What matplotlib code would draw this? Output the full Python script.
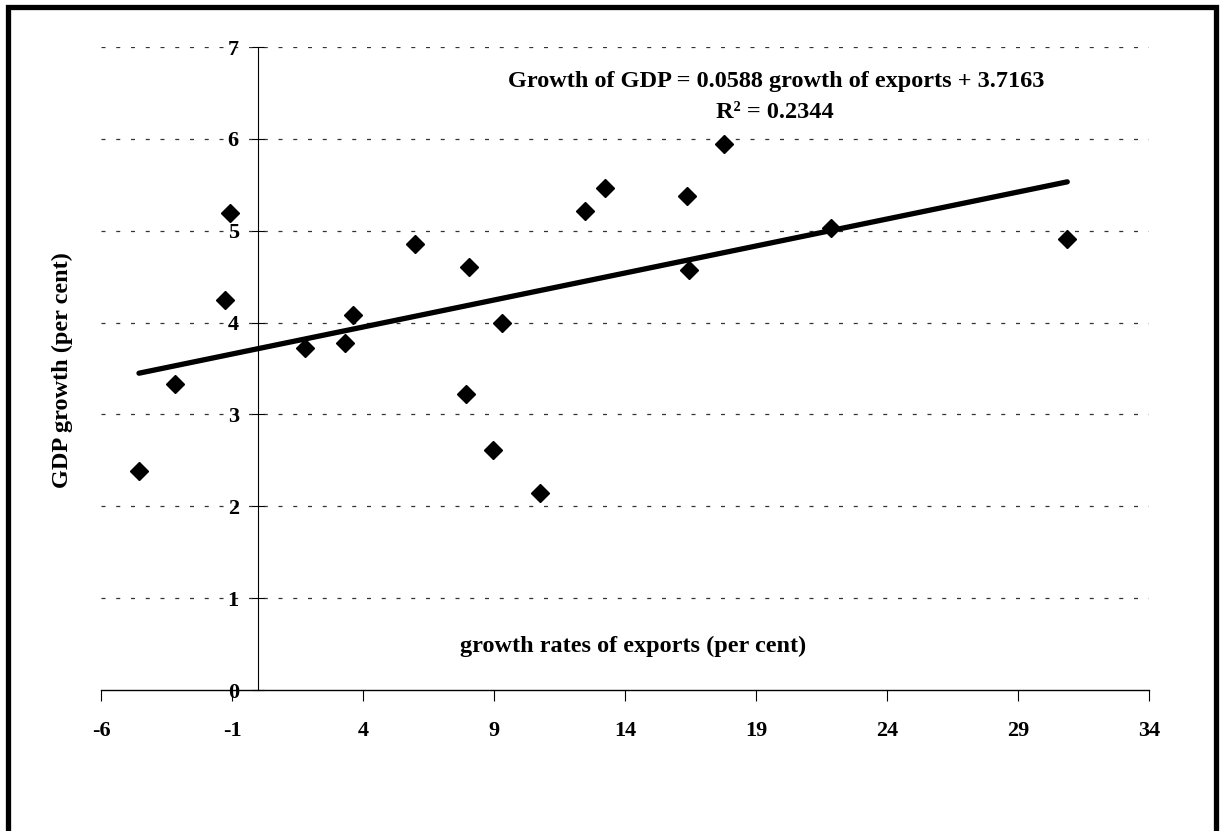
import numpy as np
import matplotlib
matplotlib.use("Agg")
import matplotlib.pyplot as plt
from matplotlib.lines import Line2D

plt.rcParams["font.family"] = ["Liberation Serif", "DejaVu Serif"]
plt.rcParams["font.weight"] = "bold"

# growth of exports (x) vs growth of GDP (y), per cent
export_growth = [-4.55, -3.18, -1.27, -1.08, 1.79, 3.31, 3.62, 5.98, 7.93, 8.06,
                 8.95, 9.29, 10.76, 12.47, 13.25, 16.38, 16.43, 17.78, 21.86, 30.88]
gdp_growth = [2.38, 3.33, 4.25, 5.19, 3.72, 3.78, 4.08, 4.86, 3.22, 4.60,
              2.61, 4.00, 2.15, 5.21, 5.46, 5.38, 4.57, 5.94, 5.03, 4.91]

slope = 0.0588
intercept = 3.7163
r_squared = 0.2344

x_ticks = [-6, -1, 4, 9, 14, 19, 24, 29, 34]
y_ticks = [0, 1, 2, 3, 4, 5, 6, 7]

W, H = 1222, 831
fig = plt.figure(figsize=(W / 100, H / 100), dpi=100)
ax = fig.add_axes([101 / W, 1 - 690 / H, (1149 - 101) / W, (690 - 47) / H])

ax.set_xlim(-6, 34)
ax.set_ylim(0, 7)

# dotted horizontal gridlines
for yv in y_ticks[1:]:
    ax.axhline(yv, color="#333333", linewidth=0.9, linestyle=(0, (3.2, 8.6)), zorder=1)

# trend line over the data range
xs = np.array([min(export_growth), max(export_growth)])
ax.plot(xs, slope * xs + intercept, color="black", linewidth=3.8,
        solid_capstyle="round", zorder=3)

ax.plot(export_growth, gdp_growth, linestyle="none", marker="D", markersize=9.5,
        color="black", zorder=4)

for s in ["top", "right"]:
    ax.spines[s].set_visible(False)
ax.spines["left"].set_position(("data", 0))
ax.spines["left"].set_linewidth(0.8)
ax.spines["bottom"].set_linewidth(1.0)

ax.set_xticks(x_ticks)
ax.set_xticklabels([str(v) for v in x_ticks])
ax.set_yticks(y_ticks)
ax.set_yticklabels([str(v) for v in y_ticks])
ax.tick_params(axis="x", direction="out", length=8, width=0.8, pad=14, labelsize=16)
ax.tick_params(axis="y", direction="inout", length=8, width=0.8, pad=10, labelsize=16)

ax.text(14.3, 0.47, "growth rates of exports (per cent)", ha="center", va="center",
        fontsize=17.5, fontweight="bold")

fig.text(776 / W, 1 - 81 / H,
         f"Growth of GDP = {slope} growth of exports + {intercept}",
         ha="center", va="center", fontsize=17.5, fontweight="bold")
fig.text(775 / W, 1 - 112 / H, f"R\u00b2 = {r_squared}",
         ha="center", va="center", fontsize=17.5, fontweight="bold")

fig.text(62 / W, 1 - 370 / H, "GDP growth (per cent)", rotation=90,
         ha="center", va="center", fontsize=17.5, fontweight="bold")

# thick frame: left, top and right edges (bottom is cut off in the scan)
fx = [8 / W, 8 / W, 1216 / W, 1216 / W]
fy = [-0.01, 1 - 7 / H, 1 - 7 / H, -0.01]
fig.add_artist(Line2D(fx, fy, transform=fig.transFigure, color="black",
                      linewidth=3.8, solid_joinstyle="miter"))

fig.savefig("out.png", dpi=100)
